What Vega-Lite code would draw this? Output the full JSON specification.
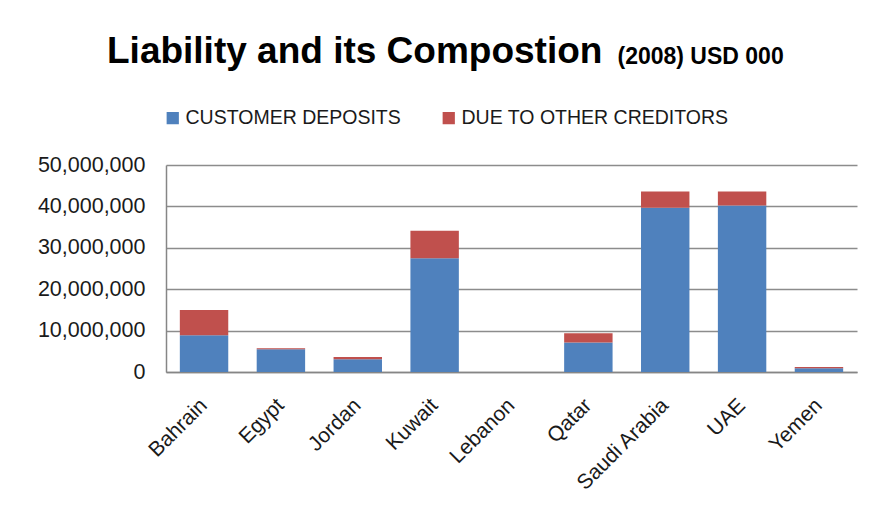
{
  "$schema": "https://vega.github.io/schema/vega-lite/v6.json",
  "autosize": {"type": "none"},
  "width": 691,
  "height": 207,
  "padding": {"left": 166, "top": 165, "right": 18, "bottom": 156},
  "background": "white",
  "title": {
    "text": "Liability and its Compostion",
    "orient": "top",
    "anchor": "start",
    "frame": "group",
    "dx": -59,
    "dy": 26,
    "offset": 0,
    "font": "Liberation Sans",
    "fontSize": 37,
    "fontWeight": "bold",
    "color": "#000000"
  },
  "data": {
    "values": [
      {"country": "Bahrain", "series": "CUSTOMER DEPOSITS", "value": 8900000},
      {"country": "Bahrain", "series": "DUE TO OTHER CREDITORS", "value": 6100000},
      {"country": "Egypt", "series": "CUSTOMER DEPOSITS", "value": 5500000},
      {"country": "Egypt", "series": "DUE TO OTHER CREDITORS", "value": 250000},
      {"country": "Jordan", "series": "CUSTOMER DEPOSITS", "value": 3100000},
      {"country": "Jordan", "series": "DUE TO OTHER CREDITORS", "value": 500000},
      {"country": "Kuwait", "series": "CUSTOMER DEPOSITS", "value": 27500000},
      {"country": "Kuwait", "series": "DUE TO OTHER CREDITORS", "value": 6600000},
      {"country": "Lebanon", "series": "CUSTOMER DEPOSITS", "value": 0},
      {"country": "Lebanon", "series": "DUE TO OTHER CREDITORS", "value": 0},
      {"country": "Qatar", "series": "CUSTOMER DEPOSITS", "value": 7100000},
      {"country": "Qatar", "series": "DUE TO OTHER CREDITORS", "value": 2250000},
      {"country": "Saudi Arabia", "series": "CUSTOMER DEPOSITS", "value": 39700000},
      {"country": "Saudi Arabia", "series": "DUE TO OTHER CREDITORS", "value": 3900000},
      {"country": "UAE", "series": "CUSTOMER DEPOSITS", "value": 40200000},
      {"country": "UAE", "series": "DUE TO OTHER CREDITORS", "value": 3400000},
      {"country": "Yemen", "series": "CUSTOMER DEPOSITS", "value": 900000},
      {"country": "Yemen", "series": "DUE TO OTHER CREDITORS", "value": 300000}
    ]
  },
  "mark": {"type": "bar"},
  "encoding": {
    "x": {
      "field": "country",
      "type": "nominal",
      "sort": null,
      "scale": {"paddingInner": 0.37, "paddingOuter": 0.18},
      "axis": {
        "title": "(2008) USD 000",
        "titleX": 451,
        "titleY": -309,
        "titleAlign": "left",
        "titleAnchor": null,
        "titleBaseline": "alphabetic",
        "titleFont": "Liberation Sans",
        "titleFontSize": 23,
        "titleFontWeight": "bold",
        "titleColor": "#000000",
        "labelAngle": -45,
        "labelAlign": "right",
        "labelBaseline": "middle",
        "labelPadding": 30,
        "labelFont": "Liberation Sans",
        "labelFontSize": 21,
        "labelColor": "#1a1a1a",
        "ticks": false,
        "domainColor": "#868686",
        "domainWidth": 1.5
      }
    },
    "y": {
      "field": "value",
      "type": "quantitative",
      "stack": "zero",
      "scale": {"domain": [0, 50000000], "nice": false},
      "axis": {
        "title": null,
        "values": [0, 10000000, 20000000, 30000000, 40000000, 50000000],
        "format": ",.0f",
        "labelFont": "Liberation Sans",
        "labelFontSize": 21.5,
        "labelColor": "#1a1a1a",
        "labelPadding": 21,
        "ticks": false,
        "domainColor": "#868686",
        "domainWidth": 1.5,
        "gridColor": "#8c8c8c",
        "gridWidth": 1.3
      }
    },
    "order": {"field": "series", "sort": "ascending"},
    "color": {
      "field": "series",
      "type": "nominal",
      "scale": {
        "domain": ["CUSTOMER DEPOSITS", "DUE TO OTHER CREDITORS"],
        "range": ["#4F81BD", "#C0504D"]
      },
      "legend": {
        "title": null,
        "orient": "none",
        "direction": "horizontal",
        "legendX": -3,
        "legendY": -57,
        "symbolType": "square",
        "symbolSize": 150,
        "symbolStrokeWidth": 0,
        "labelFont": "Liberation Sans",
        "labelFontSize": 19.5,
        "labelColor": "#1a1a1a",
        "labelOffset": 3,
        "labelLimit": 400,
        "columnPadding": 38
      }
    }
  },
  "config": {
    "view": {"stroke": null}
  }
}
